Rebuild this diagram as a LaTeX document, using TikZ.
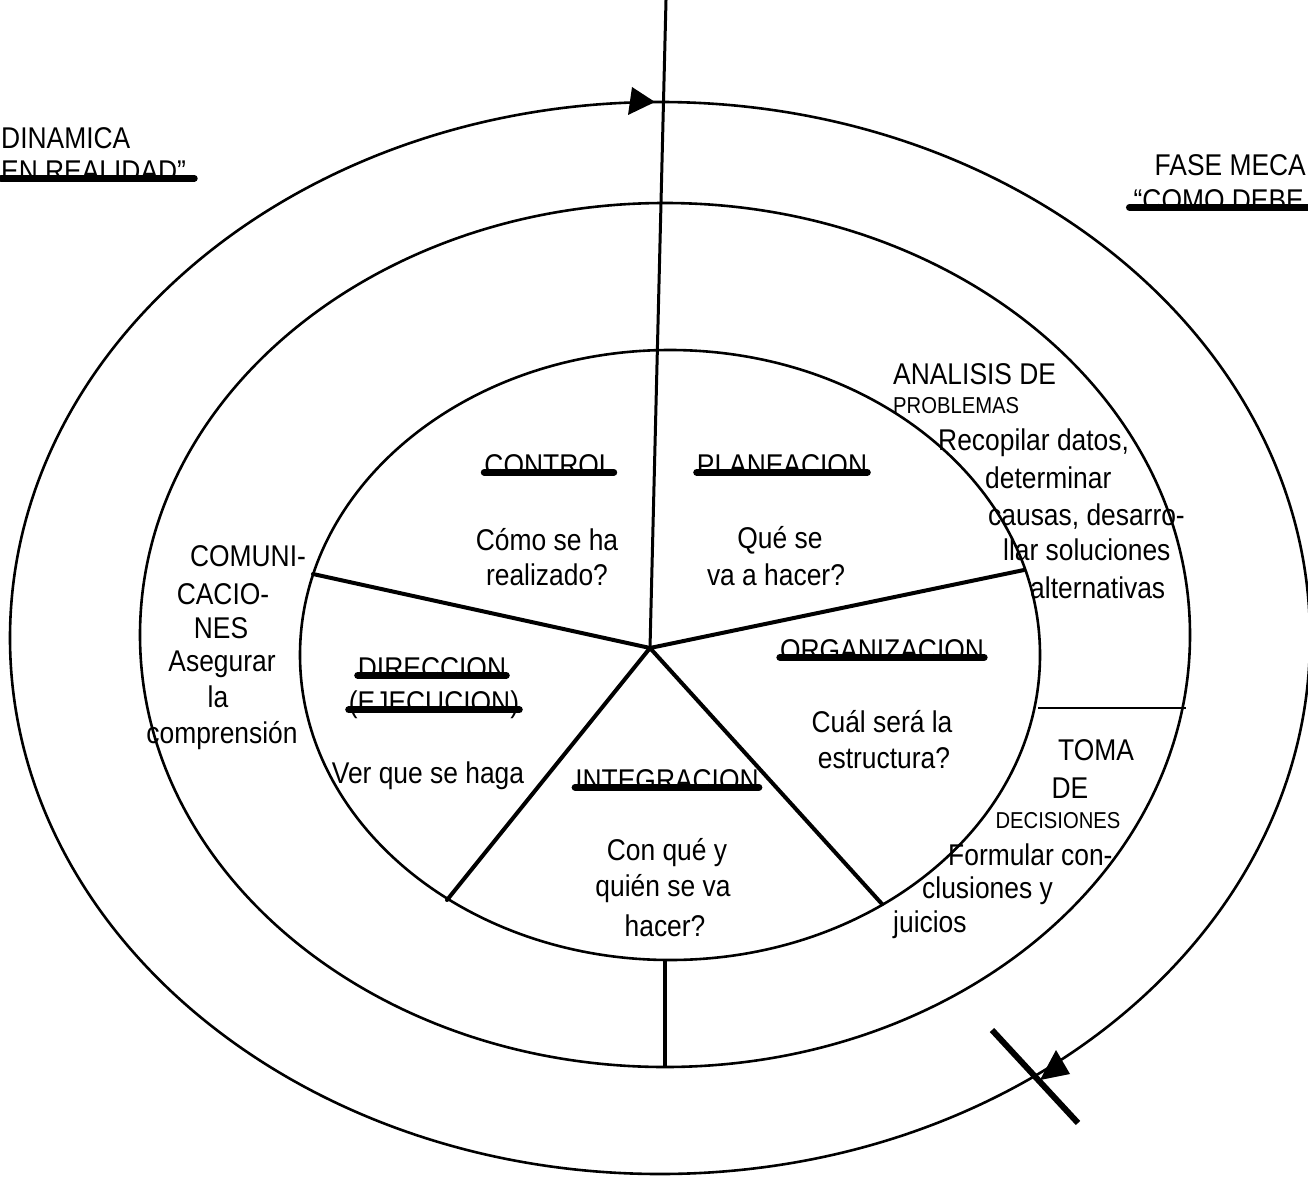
\documentclass[tikz,border=0pt]{standalone}
\usepackage{fontspec}
\setmainfont{Liberation Sans}[FakeStretch=0.88]
\begin{document}
\begin{tikzpicture}[x=1pt,y=-1pt,
  ring/.style={line width=2.6pt},
  spoke/.style={line width=4pt, line cap=round},
  thin/.style={line width=2.2pt},
  txt/.style={font=\fontsize{30}{36}\selectfont, inner sep=0pt},
  sm/.style={font=\fontsize{23}{28}\selectfont, inner sep=0pt},
  ulbar/.style={line width=7pt, line cap=round},
]
\useasboundingbox (0,0) rectangle (1308,1177);
\fill[white] (0,0) rectangle (1308,1177);

% three rings
\draw[ring] (660,638) ellipse [x radius=650pt, y radius=536pt];
\draw[ring] (665,635) ellipse [x radius=525pt, y radius=432pt];
\draw[ring] (670,655) ellipse [x radius=370pt, y radius=305pt];

% hub and spokes
\coordinate (hub) at (650,648);
\coordinate (top) at (666,0);
\coordinate (sL) at (313,574);
\coordinate (sR) at (1024,570);
\coordinate (sBL) at (447,900);
\coordinate (sBR) at (882,904);
\draw[line width=3pt] (top) -- (hub);
\draw[spoke] (hub) -- (sL);
\draw[spoke] (hub) -- (sR);
\draw[spoke] (hub) -- (sBL);
\draw[spoke] (hub) -- (sBR);

% dividers in the middle ring
\coordinate (bt) at (665,960);
\coordinate (bb) at (665,1068);
\draw[line width=3.5pt] (bt) -- (bb);
\coordinate (hl) at (1038,708);
\coordinate (hr) at (1186,708);
\draw[thin] (hl) -- (hr);

% direction marks on the outer ring
\fill (632,87) -- (655,102) -- (628,115) -- cycle;
\fill (1056,1050) -- (1070,1074) -- (1040,1080) -- cycle;
\coordinate (xa) at (992,1030);
\coordinate (xb) at (1078,1123);
\draw[line width=6pt] (xa) -- (xb);

% corner titles
\node[txt, anchor=west] (din) at (1,138) {DINAMICA};
\node[txt, anchor=west] (real) at (1,171) {EN REALIDAD”};
\draw[ulbar] ([yshift=3pt]real.base west) -- ([xshift=8pt,yshift=3pt]real.base east);
\node[txt, anchor=east] (mec) at (1306,165) {FASE MECA};
\node[txt, anchor=east] (deb) at (1304,200) {“COMO DEBE};
\draw[ulbar] ([xshift=-4pt,yshift=3pt]deb.base west) -- ([xshift=4pt,yshift=3pt]deb.base east);

% five functions
\node[txt] (ctl) at (549,465) {CONTROL};
\draw[ulbar] ([yshift=3pt]ctl.base west) -- ([yshift=3pt]ctl.base east);
\node[txt] (ctl1) at (547,540) {Cómo se ha};
\node[txt] (ctl2) at (547,575) {realizado?};

\node[txt] (pla) at (782,465) {PLANEACION};
\draw[ulbar] ([yshift=3pt]pla.base west) -- ([yshift=3pt]pla.base east);
\node[txt] (pla1) at (780,540) {Qué se};
\node[txt] (pla2) at (776,575) {va a hacer?};

\node[txt] (org) at (882,650) {ORGANIZACION};
\draw[ulbar] ([yshift=3pt]org.base west) -- ([yshift=3pt]org.base east);
\node[txt] (org1) at (882,722) {Cuál será la};
\node[txt] (org2) at (884,758) {estructura?};

\node[txt] (dir) at (432,668) {DIRECCION};
\draw[ulbar] ([yshift=3pt]dir.base west) -- ([yshift=3pt]dir.base east);
\node[txt] (eje) at (434,705) {(EJECUCION)};
\draw[ulbar] ([yshift=3pt]eje.base west) -- ([yshift=3pt]eje.base east);
\node[txt] (dir1) at (428,776) {Ver que se haga};

\node[txt] (int) at (667,780) {INTEGRACION};
\draw[ulbar] ([yshift=3pt]int.base west) -- ([yshift=3pt]int.base east);
\node[txt] (int1) at (667,853) {Con qué y};
\node[txt] (int2) at (663,889) {quién se va};
\node[txt] (int3) at (665,926) {hacer?};

% middle ring: communication
\node[txt] (com1) at (248,556) {COMUNI-};
\node[txt] (com2) at (223,594) {CACIO-};
\node[txt] (com3) at (221,628) {NES};
\node[txt] (com4) at (222,664) {Asegurar};
\node[txt] (com5) at (218,697) {la};
\node[txt] (com6) at (222,736) {comprensión};

% middle ring: problem analysis
\node[txt, anchor=west] (ana1) at (893,374) {ANALISIS DE};
\node[sm, anchor=west] (ana2) at (893,406) {PROBLEMAS};
\node[txt, anchor=west] (ana3) at (938,443) {Recopilar datos,};
\node[txt, anchor=west] (ana4) at (985,478) {determinar};
\node[txt, anchor=west] (ana5) at (988,517) {causas, desarro-};
\node[txt, anchor=west] (ana6) at (1003,550) {llar soluciones};
\node[txt, anchor=west] (ana7) at (1030,588) {alternativas};

% middle ring: decision making
\node[txt] (tom1) at (1096,750) {TOMA};
\node[txt] (tom2) at (1070,788) {DE};
\node[sm] (tom3) at (1058,821) {DECISIONES};
\node[txt, anchor=west] (tom4) at (948,855) {Formular con-};
\node[txt, anchor=west] (tom5) at (922,891) {clusiones y};
\node[txt, anchor=west] (tom6) at (893,925) {juicios};
\end{tikzpicture}
\end{document}
